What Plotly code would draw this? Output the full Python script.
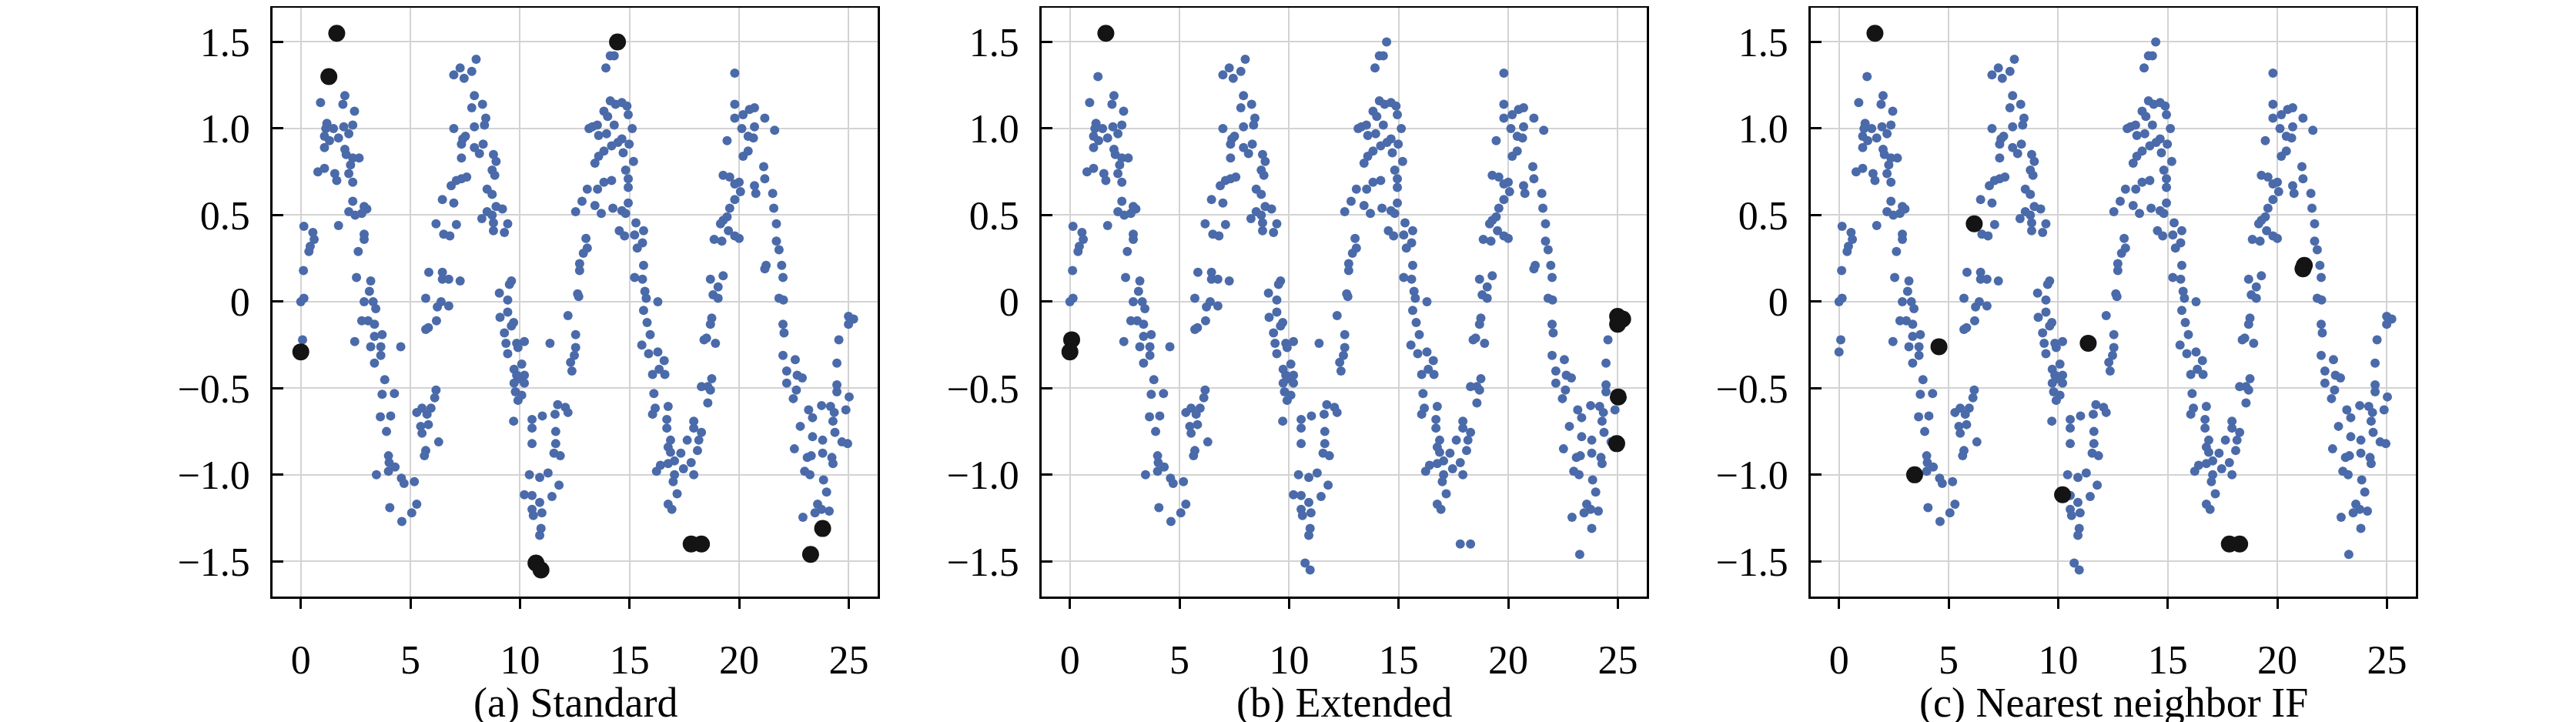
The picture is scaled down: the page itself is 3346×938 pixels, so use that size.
import plotly.graph_objects as go

# signal samples (same points in all three panels)
x_vals = [
    1.64, 1.28, 0.0,
    2.01, 0.90, 1.92, 2.45, 1.19, 2.37, 1.96, 1.14, 1.49, 1.08, 1.72, 2.19, 1.31, 1.08, 2.01, 2.07,
    2.37, 2.66, 2.27, 1.08, 0.78, 1.55, 2.19, 1.64, 2.37, 2.37, 2.89, 2.19, 2.48, 3.01, 2.78, 1.72,
    0.14, 0.55, 2.89, 0.61, 2.89, 0.43, 0.37, 2.62, 0.12, 2.54, 3.19, 3.13, 0.0, 0.14, 2.89, 3.30,
    3.42, 2.78, 3.36, 3.07, 0.08, 2.46, 3.71, 3.36, 3.19, 3.65, 4.56, 3.65, 3.36, 3.83, 3.71, 4.27,
    3.63, 4.10, 3.91, 4.0, 4.03, 4.30, 3.45, 4.0, 4.59, 4.71, 5.18, 4.06, 5.29, 5.06, 4.61,
    6.46, 6.17, 6.52, 5.84, 6.46, 6.46, 5.70, 6.23, 6.40, 6.19, 5.70, 5.82, 6.17, 6.11, 5.29, 5.53,
    5.94, 5.76, 5.47, 5.82, 5.53, 6.29, 5.70, 5.64,
    8.0, 7.27, 6.98, 7.45, 7.80, 7.92, 7.80, 8.29, 8.44, 8.38, 7.92, 6.98, 7.39, 7.51, 7.33, 7.92,
    8.32, 8.15, 8.79, 8.91, 7.33, 8.73, 8.85, 7.57, 7.33, 7.10, 6.86, 8.50, 8.73, 6.98, 8.91, 9.20,
    8.50, 8.73, 8.26, 7.10, 6.80, 8.79, 9.44, 8.79, 9.29, 6.75, 7.27, 9.61, 9.52, 9.06, 9.44, 6.75,
    9.09, 9.44, 9.71, 9.61, 9.29, 9.36, 9.85, 10.2, 9.44, 9.91, 11.37, 12.19, 12.54, 12.54, 12.48,
    12.31, 12.37, 10.08, 9.73, 9.85, 10.2, 9.96, 9.73, 10.2, 9.79, 10.08, 9.91, 9.71, 10.55, 10.55,
    11.02, 10.55, 11.72, 12.07, 12.19, 11.60, 11.63, 11.63, 11.55, 11.84, 10.43, 10.90, 11.28,
    11.78, 10.20, 10.55, 11.46, 10.90, 10.55, 10.61, 11.0, 10.96, 10.90, 10.73, 10.96,
    13.15, 13.07, 12.83, 12.54, 13.01, 13.07, 12.89, 12.72, 12.72, 12.63, 12.68,
    14.45, 17.81, 18.28,
    14.30, 14.12, 13.92, 14.12, 14.36, 14.65, 14.88, 13.83, 14.00, 14.94, 13.30, 13.53, 14.30,
    15.12, 13.59, 13.95, 14.65, 14.18, 14.47, 14.98, 13.83, 14.71, 13.59, 13.42, 15.18, 14.82,
    14.94, 14.18, 13.83, 14.94, 13.54, 14.94, 13.42, 14.24, 14.65, 14.82, 13.71, 15.29, 14.53,
    14.77, 15.23, 15.64, 15.59, 15.35, 15.64, 15.23, 15.59, 15.70, 15.76, 16.29, 15.64, 15.80,
    15.94, 15.56, 15.87, 16.29, 16.58, 16.35, 16.05, 16.61, 16.11, 16.17, 16.76, 16.05, 16.70,
    16.70, 16.87, 16.76, 16.87, 17.34, 17.63, 17.93, 17.93, 18.28, 18.16, 18.10, 17.05, 16.76,
    16.41, 16.23, 17.46, 17.81, 17.93, 17.05, 16.99, 17.17, 16.76, 16.93,
    18.69, 19.27, 19.04, 18.81, 19.04, 18.75, 18.69, 18.51, 18.40, 18.92, 18.75, 18.57, 18.28,
    18.69, 18.57, 19.80, 19.80, 19.80, 19.45, 19.27, 19.57, 19.80, 19.80, 19.57, 19.45, 19.27,
    19.15, 19.51, 19.80, 18.86, 19.21,
    20.18, 20.47, 20.70, 21.17, 20.12, 20.70, 20.41, 20.65, 21.62, 20.41, 20.18, 21.12, 21.17,
    20.0, 20.70, 20.76, 21.53, 20.06, 21.58, 21.70, 20.0, 21.70, 21.82, 21.23, 21.17, 21.94, 22.0,
    21.82, 22.02, 22.0, 22.05, 22.0, 22.56, 22.17, 22.65, 22.88, 22.17, 22.61, 22.47, 24.99, 25.22,
    24.99, 24.55, 24.46, 24.46, 24.46, 25.02, 24.87, 23.17, 23.35, 23.76, 24.17, 24.34, 24.28,
    22.79, 23.35, 23.81, 24.37, 24.69, 24.95, 22.52, 23.11, 23.29, 23.81, 24.23, 24.28, 22.99,
    23.23, 23.85, 23.99, 23.58, 23.76, 23.46, 24.11, 22.91, 23.81, 23.26,
]
y_vals = [
    1.55, 1.30, -0.29,
    1.19, 1.15, 1.14, 1.10, 1.03, 1.02, 1.01, 1.0, 1.0, 0.955, 0.945, 0.97, 0.93, 0.89, 0.88, 0.85,
    0.83, 0.83, 0.79, 0.77, 0.75, 0.74, 0.74, 0.70, 0.69, 0.58, 0.55, 0.52, 0.50, 0.535, 0.51, 0.44,
    0.435, 0.40, 0.39, 0.36, 0.36, 0.32, 0.29, 0.29, 0.18, 0.14, 0.12, 0.06, 0.0, 0.02, 0.0, 0.0,
    -0.04, -0.11, -0.13, -0.11, -0.22, -0.23, -0.19, -0.20, -0.26, -0.26, -0.26, -0.31, -0.355,
    -0.45, -0.535, -0.53, -0.665, -0.66, -0.75, -0.89, -0.93, -0.955, -1.0, -0.98, -1.02, -1.05,
    -1.04, -1.19, -1.17, -1.22, -1.27,
    0.59, 0.45, 0.39, 0.17, 0.17, 0.13, 0.02, -0.03, 0.0, -0.11, -0.16, -0.15, -0.51, -0.555,
    -0.64, -0.615, -0.615, -0.65, -0.72, -0.71, -0.76, -0.81, -0.86, -0.89,
    1.40, 1.35, 1.31, 1.29, 1.33, 1.19, 1.12, 1.14, 1.06, 1.02, 1.01, 1.0, 0.94, 0.955, 0.91, 0.89,
    0.91, 0.855, 0.85, 0.81, 0.83, 0.76, 0.73, 0.72, 0.71, 0.70, 0.67, 0.65, 0.62, 0.57, 0.55,
    0.535, 0.52, 0.50, 0.48, 0.445, 0.38, 0.455, 0.45, 0.41, 0.40, 0.13, 0.12, 0.12, 0.10, 0.05,
    0.01, -0.025, -0.09, -0.06, -0.12, -0.14, -0.18, -0.24, -0.24, -0.23, -0.30, -0.265, -0.24,
    -0.08, -0.19, -0.265, -0.31, -0.35, -0.40, -0.36, -0.39, -0.425, -0.425, -0.445, -0.47, -0.47,
    -0.52, -0.54, -0.57, -0.69, -0.68, -0.73, -0.66, -0.82, -0.595, -0.61, -0.64, -0.65, -0.75,
    -0.82, -0.875, -0.89, -1.0, -1.015, -0.99, -1.06, -1.115, -1.12, -1.125, -1.16, -1.20, -1.235,
    -1.22, -1.31, -1.35, -1.51, -1.55,
    1.0, 0.65, 0.58, 0.52, 0.365, 0.31, 0.28, 0.22, 0.18, 0.045, 0.03,
    1.50, -1.40, -1.40,
    1.42, 1.42, 1.35, 1.16, 1.14, 1.15, 1.13, 1.10, 1.07, 1.08, 1.01, 1.02, 1.02, 1.0, 0.96, 0.97,
    0.94, 0.90, 0.92, 0.91, 0.87, 0.86, 0.84, 0.80, 0.81, 0.76, 0.71, 0.70, 0.69, 0.66, 0.65, 0.57,
    0.555, 0.54, 0.525, 0.51, 0.51, 0.455, 0.41, 0.38, 0.385, 0.41, 0.34, 0.31, 0.21, 0.14, 0.13,
    0.06, 0.02, 0.0, -0.05, -0.12, -0.19, -0.25, -0.30, -0.29, -0.34, -0.39, -0.42, -0.42, -0.53,
    -0.615, -0.605, -0.65, -0.68, -0.73, -0.80, -0.84, -0.87, -0.875, -0.80, -0.69, -0.73, -0.755,
    -0.80, -0.86, -0.92, -0.935, -0.945, -0.98, -0.965, -0.93, -1.0, -1.0, -1.04, -1.11, -1.17,
    -1.20,
    0.13, 0.15, 0.085, 0.04, 0.02, -0.095, -0.13, -0.21, -0.22, -0.24, -0.445, -0.49, -0.49, -0.51,
    -0.585, 1.32, 1.14, 1.06, 0.93, 0.73, 0.72, 0.68, 0.59, 0.54, 0.49, 0.47, 0.45, 0.41, 0.38,
    0.36, 0.35,
    1.08, 1.11, 1.12, 1.06, 1.0, 1.01, 0.955, 0.945, 0.99, 0.87, 0.84, 0.78, 0.71, 0.69, 0.67,
    0.625, 0.625, 0.635, 0.54, 0.45, 0.365, 0.35, 0.30, 0.21, 0.19, 0.21, 0.14, 0.02, 0.01, -0.13,
    -0.18, -0.31, -0.335, -0.40, -0.425, -0.44, -0.47, -0.51, -0.56, -0.085, -0.10, -0.13, -0.22,
    -0.355, -0.48, -0.52, -0.55, -0.625, -0.625, -0.67, -0.60, -0.605, -0.64, -0.69, -0.72, -0.78,
    -0.80, -0.755, -0.81, -0.82, -0.85, -0.90, -0.89, -0.875, -0.90, -0.935, -0.98, -1.0, -1.03,
    -1.10, -1.17, -1.20, -1.22, -1.21, -1.245, -1.31, -1.46,
]

# points flagged as anomalies by each method
standard_out = [(0.0, -0.29), (1.28, 1.30), (1.64, 1.55), (14.45, 1.50), (10.73, -1.51),
                (10.96, -1.55), (17.81, -1.40), (18.28, -1.40), (23.26, -1.46), (23.81, -1.31)]
extended_out = [(0.08, -0.22), (0.0, -0.29), (1.64, 1.55), (24.99, -0.085), (25.22, -0.10),
                (24.99, -0.13), (25.02, -0.55), (24.95, -0.82)]
nnif_out = [(1.64, 1.55), (3.45, -1.0), (4.56, -0.26), (6.17, 0.45), (10.20, -1.115),
            (11.37, -0.24), (17.81, -1.40), (18.28, -1.40), (21.23, 0.21), (21.17, 0.19)]

panels = ['(a) Standard', '(b) Extended', '(c) Nearest neighbor IF']
outliers = [standard_out, extended_out, nnif_out]

y_ticks = [-1.5, -1.0, -0.5, 0, 0.5, 1.0, 1.5]
y_text = ['\u22121.5', '\u22121.0', '\u22120.5', '0', '0.5', '1.0', '1.5']
x_ticks = [0, 5, 10, 15, 20, 25]

BLUE = '#4A6AAA'
W, H = 3346, 938
left_px = [346, 1345, 2344]
plot_w = 786
top_px, bot_px = 1.5, 767
FONT = 'Liberation Serif'

fig = go.Figure()
layout = {}
for i, (title, outs) in enumerate(zip(panels, outliers)):
    n = '' if i == 0 else str(i + 1)
    flagged = set(outs)
    bx = [x for x, y in zip(x_vals, y_vals) if (x, y) not in flagged]
    by = [y for x, y in zip(x_vals, y_vals) if (x, y) not in flagged]
    ox = [p[0] for p in outs]
    oy = [p[1] for p in outs]
    fig.add_trace(go.Scatter(x=bx, y=by, mode='markers', xaxis='x' + n, yaxis='y' + n,
                             marker=dict(color=BLUE, size=12, line=dict(width=0)),
                             showlegend=False))
    fig.add_trace(go.Scatter(x=ox, y=oy, mode='markers', xaxis='x' + n, yaxis='y' + n,
                             marker=dict(color='#141414', size=22, line=dict(width=0)),
                             showlegend=False))

    d0 = left_px[i] / W
    d1 = (left_px[i] + plot_w) / W
    layout['xaxis' + n] = dict(
        domain=[d0, d1], range=[-1.29, 26.32], anchor='y' + n,
        tickvals=x_ticks, ticks='outside', ticklen=13, tickwidth=2.5, tickcolor='black',
        showline=True, linecolor='black', linewidth=2.5, mirror=True,
        showgrid=True, gridcolor='#d3d3d3', gridwidth=2, zeroline=False,
        ticklabelstandoff=22,
        tickfont=dict(family=FONT, size=52, color='black'),
    )
    layout['yaxis' + n] = dict(
        domain=[(H - bot_px) / H, (H - top_px) / H], range=[-1.703, 1.70], anchor='x' + n,
        tickvals=y_ticks, ticktext=y_text, ticks='inside', ticklen=14, tickwidth=2.5,
        tickcolor='black', showline=True, linecolor='black', linewidth=2.5, mirror=True,
        showgrid=True, gridcolor='#d3d3d3', gridwidth=2, zeroline=False,
        ticklabelstandoff=16,
        tickfont=dict(family=FONT, size=52, color='black'),
    )
    fig.add_annotation(text=title, x=(d0 + d1) / 2, y=(H - 905) / H, xref='paper', yref='paper',
                       showarrow=False, xanchor='center', yanchor='middle',
                       font=dict(family=FONT, size=54, color='black'))

fig.update_layout(
    width=W, height=H,
    margin=dict(l=0, r=0, t=0, b=0),
    paper_bgcolor='white', plot_bgcolor='white',
    **layout
)

fig.write_html('out.html')
